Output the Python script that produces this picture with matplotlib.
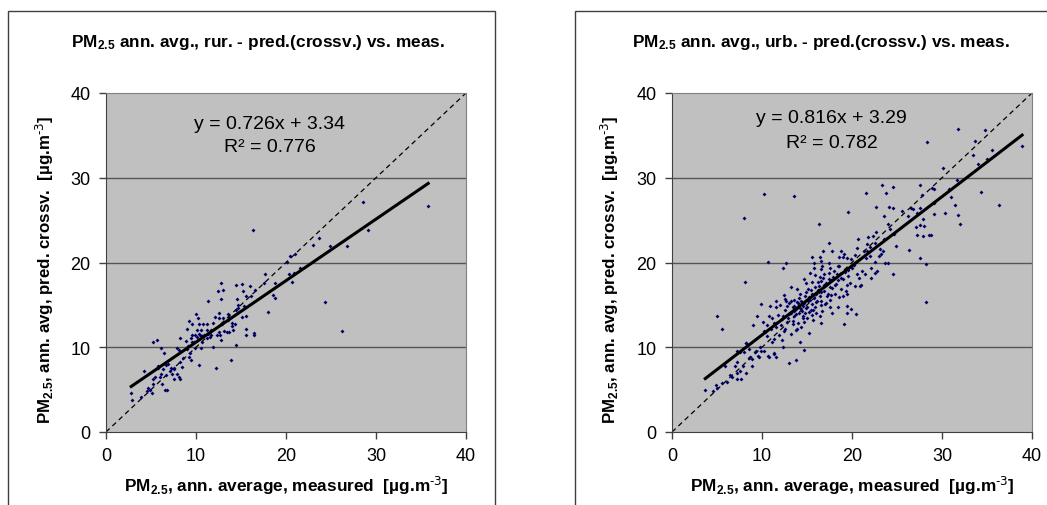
import matplotlib
matplotlib.use('Agg')
import matplotlib.pyplot as plt
import numpy as np
from matplotlib.patches import Rectangle

plt.rcParams['font.family'] = ['Liberation Sans', 'DejaVu Sans']
plt.rcParams['mathtext.default'] = 'regular'

# rural stations: measured vs. cross-validated prediction
rur_meas = [20.4, 21.0, 20.1, 17.7, 18.8, 20.3, 20.9, 20.7, 21.6, 12.8, 14.4, 15.1, 16.0, 17.5,
            12.4, 13.0, 15.2, 16.5, 12.8, 11.3, 14.5, 15.6, 16.1, 18.6, 18.8, 14.7, 14.7, 15.3,
            10.0, 12.6, 12.1, 10.2, 12.6, 13.0, 13.5, 13.7, 14.4, 15.1, 15.6, 18.0, 9.2, 9.6,
            11.2, 11.9, 10.8, 10.3, 13.6, 14.0, 12.9, 14.0, 14.3, 9.0, 10.1, 10.6, 10.3, 10.9,
            10.4, 11.2, 11.7, 12.6, 13.1, 13.4, 13.7, 14.1, 15.6, 16.4, 16.4, 9.6, 9.9, 9.4,
            10.1, 10.7, 11.2, 11.5, 11.7, 12.3, 12.7, 12.8, 15.6, 8.2, 5.2, 5.7, 8.9, 9.5,
            9.8, 10.7, 11.9, 14.4, 6.1, 7.9, 8.1, 9.1, 9.0, 9.9, 10.6, 6.4, 9.3, 9.2,
            8.6, 9.4, 13.9, 10.3, 12.2, 5.8, 6.7, 6.3, 6.9, 7.2, 7.5, 5.8, 8.4, 8.2,
            4.2, 6.1, 7.1, 7.6, 5.4, 6.0, 6.7, 7.3, 7.9, 8.2, 8.1, 7.5, 5.2, 5.2,
            6.2, 4.7, 4.9, 5.1, 4.6, 6.5, 6.8, 3.9, 2.8, 2.9, 28.6, 35.8, 29.1, 23.7,
            23.0, 24.9, 26.8, 24.3, 26.2, 16.3]
rur_pred = [20.8, 21.0, 20.1, 18.6, 17.6, 18.6, 18.8, 17.7, 19.3, 17.6, 17.4, 17.5, 17.2, 17.6,
            16.6, 16.7, 16.6, 16.7, 15.7, 15.5, 15.7, 16.0, 16.0, 16.2, 15.8, 15.0, 14.6, 14.9,
            13.9, 14.1, 13.6, 13.5, 13.4, 13.4, 13.9, 13.6, 14.4, 13.6, 13.7, 14.2, 13.1, 12.7,
            12.8, 12.9, 12.7, 12.7, 13.2, 12.9, 12.7, 12.5, 12.8, 12.2, 12.0, 12.0, 11.6, 11.5,
            11.5, 12.0, 12.0, 11.8, 11.9, 11.8, 11.8, 12.0, 12.2, 11.7, 11.5, 11.5, 11.4, 11.1,
            11.2, 11.3, 11.1, 11.2, 11.5, 11.4, 11.4, 10.9, 11.4, 11.1, 10.6, 10.9, 10.7, 10.6,
            10.6, 10.6, 10.0, 10.3, 9.9, 9.9, 9.7, 10.2, 9.8, 9.9, 9.9, 9.3, 9.3, 8.8,
            8.7, 8.5, 8.5, 7.9, 7.5, 7.8, 7.9, 7.4, 8.0, 7.6, 7.6, 7.6, 7.7, 8.3,
            7.2, 6.9, 7.2, 7.4, 6.5, 6.5, 6.7, 6.8, 6.8, 6.3, 6.5, 6.2, 6.2, 5.7,
            5.7, 5.2, 4.9, 4.6, 4.8, 4.9, 5.0, 4.1, 4.6, 3.8, 27.1, 26.7, 23.8, 22.9,
            22.1, 21.9, 21.9, 15.3, 11.9, 23.8]

# urban stations
urb_meas = [31.8, 34.8, 28.3, 33.7, 35.6, 38.9, 33.4, 35.0, 34.0, 30.1, 31.7, 21.6, 23.3, 24.6,
            23.8, 27.5, 28.9, 29.1, 27.8, 30.8, 31.0, 34.3, 22.7, 24.1, 24.6, 25.5, 26.5, 26.8,
            27.5, 29.1, 31.4, 36.3, 23.5, 26.2, 27.2, 27.9, 29.1, 30.3, 31.8, 32.0, 22.7, 24.0,
            24.2, 24.7, 27.1, 27.5, 28.0, 27.2, 27.9, 28.5, 28.8, 21.8, 22.3, 21.7, 22.0, 21.3,
            21.7, 23.4, 24.9, 26.3, 23.0, 23.2, 22.6, 27.5, 23.7, 24.0, 28.2, 21.1, 21.4, 22.1,
            22.5, 22.8, 22.1, 24.6, 21.0, 28.2,
            10.2, 13.5, 8.0, 19.5, 16.3, 20.7, 17.4, 18.8, 20.6, 16.8, 17.8, 15.5, 16.4, 16.6,
            18.6, 19.0, 19.4, 19.9, 20.3, 19.1, 10.7, 12.7, 12.3, 15.8, 17.4, 15.8, 16.5, 16.7,
            17.5, 18.4, 20.2, 19.6, 20.6, 8.1, 15.3, 15.9, 16.4, 16.9, 17.4, 17.9, 18.4, 19.0,
            19.4, 20.3, 14.7, 14.9, 15.6, 16.2, 16.9, 17.5, 18.1, 18.8, 19.3, 20.9, 13.2, 12.4,
            13.9, 14.2, 14.9, 15.4, 16.0, 16.5, 17.2, 17.7, 18.6, 19.4, 12.5, 13.2, 13.6, 13.9,
            14.3, 14.7, 15.1, 15.5, 16.0, 16.5, 17.1, 17.5, 18.4, 19.4, 19.9, 11.6, 11.5, 12.0,
            12.8, 13.4, 13.8, 14.0, 14.4, 14.9, 15.2, 15.7, 16.7, 17.8, 9.9, 10.9, 20.4, 19.4,
            9.4, 10.8, 12.3, 13.0, 13.6, 14.1, 14.5, 15.0, 15.5, 16.4, 9.0, 10.1, 11.3, 12.2,
            12.8, 13.4, 14.0, 14.7, 16.6, 19.1, 11.0, 11.6, 12.5, 13.2, 13.8, 15.2, 11.9, 10.3,
            10.6, 11.3, 12.2, 11.1, 14.2, 8.2, 9.8, 10.2, 9.2, 14.7, 8.7, 11.3, 12.3,
            5.0, 5.5, 3.7, 4.5, 4.9, 5.0, 5.5, 6.1, 7.0, 5.9, 7.2, 6.7, 6.4, 7.2,
            7.7, 7.6, 8.2, 7.9, 8.9, 8.9, 8.5, 9.7, 10.7, 10.8, 11.3, 11.6, 13.0, 13.8,
            7.2, 7.6, 8.0, 8.2, 8.5, 9.3, 9.5, 9.9, 7.2,
            13.2, 13.6, 14.1, 14.4, 14.8, 15.1, 15.3, 15.6, 15.9, 16.2, 16.5, 16.8, 17.1, 17.4,
            17.7, 18.0, 18.3, 18.6, 12.6, 12.9, 13.4, 13.8, 14.2, 14.6, 15.0, 15.4, 15.8, 16.1,
            16.4, 16.9, 17.3, 17.8, 18.2, 18.8, 19.2, 19.6, 20.0, 20.4, 11.8, 12.1, 12.4, 11.5,
            11.1, 10.6, 10.2, 13.9, 14.3, 15.7, 16.0, 17.0, 17.6, 18.1, 19.0, 19.8, 20.8, 21.5,
            22.0, 22.6, 23.1, 23.6, 14.0, 14.5, 15.2, 15.9, 16.6, 13.5, 14.8, 13.0, 12.7, 16.3]
urb_pred = [35.8, 35.6, 34.2, 34.3, 33.3, 33.8, 32.7, 32.2, 31.6, 31.2, 29.7, 28.2, 29.2, 28.9,
            28.2, 29.2, 28.8, 28.7, 28.0, 28.7, 27.7, 28.3, 26.5, 26.5, 26.4, 26.1, 26.4, 26.3,
            26.4, 27.0, 26.8, 26.8, 25.5, 25.5, 25.8, 25.1, 25.7, 25.8, 25.6, 24.5, 23.6, 24.5,
            24.0, 23.4, 24.2, 24.4, 24.3, 23.3, 23.1, 23.3, 23.3, 23.0, 23.1, 22.2, 21.8, 21.4,
            21.4, 21.4, 22.0, 21.5, 20.8, 21.0, 20.1, 20.5, 19.9, 19.9, 19.8, 19.0, 18.6, 19.4,
            18.8, 19.0, 18.2, 18.7, 17.3, 15.3,
            28.1, 27.9, 25.3, 25.9, 24.5, 22.8, 22.3, 21.4, 21.7, 21.3, 21.3, 20.6, 20.7, 20.2,
            20.7, 20.7, 20.5, 20.4, 20.9, 21.0, 20.1, 19.9, 19.3, 20.0, 20.0, 19.3, 19.2, 19.6,
            19.4, 19.6, 19.7, 19.1, 18.6, 17.7, 18.8, 18.5, 18.3, 18.6, 18.1, 18.3, 17.9, 18.1,
            17.4, 17.2, 18.1, 17.6, 17.7, 17.7, 17.3, 17.1, 17.3, 16.9, 16.6, 17.2, 17.1, 16.2,
            16.9, 16.3, 16.5, 16.7, 16.3, 16.5, 16.1, 16.2, 15.9, 16.3, 15.7, 15.4, 15.6, 15.3,
            15.5, 15.2, 15.4, 15.1, 15.3, 15.0, 15.2, 14.8, 14.8, 14.9, 14.5, 15.4, 14.7, 15.0,
            14.9, 14.7, 14.5, 14.8, 14.3, 14.6, 14.2, 14.4, 14.3, 14.0, 15.1, 14.9, 13.9, 14.0,
            13.7, 13.7, 13.7, 13.9, 13.7, 14.0, 13.7, 13.5, 13.8, 13.7, 12.6, 13.0, 12.9, 13.3,
            13.0, 12.7, 12.9, 13.0, 12.9, 12.8, 12.2, 12.4, 12.1, 11.6, 12.0, 11.7, 11.5, 11.8,
            11.3, 11.0, 10.9, 10.6, 10.6, 10.5, 10.0, 9.6, 9.4, 9.7, 8.8, 9.2, 10.0,
            13.7, 12.2, 5.0, 4.8, 5.5, 5.2, 5.8, 5.9, 7.8, 7.8, 7.0, 6.5, 6.7, 6.2,
            6.3, 7.2, 7.0, 7.8, 7.8, 8.6, 8.7, 8.8, 9.0, 8.9, 9.3, 8.9, 8.2, 8.5,
            8.3, 9.4, 9.4, 10.5, 9.8, 9.6, 9.0, 9.6, 9.6,
            14.1, 14.9, 15.8, 15.1, 16.1, 16.9, 15.6, 16.3, 17.1, 16.7, 17.8, 18.2, 17.6, 18.8,
            17.9, 19.0, 18.6, 19.6, 14.4, 13.5, 13.1, 13.9, 14.6, 13.4, 14.8, 14.4, 15.8, 15.4,
            16.0, 16.6, 16.3, 17.0, 17.5, 18.2, 18.9, 18.4, 19.3, 20.1, 13.8, 12.6, 11.9, 12.9,
            13.4, 12.6, 11.9, 12.2, 12.4, 13.2, 14.0, 15.1, 15.6, 16.3, 16.0, 17.6, 18.2, 20.5,
            20.8, 22.3, 21.6, 22.8, 15.2, 14.9, 15.9, 14.7, 15.5, 14.3, 14.0, 15.2, 15.5, 17.2]

# trend lines as printed on the charts
rur_fit = (0.726, 3.34, 0.776)
urb_fit = (0.816, 3.29, 0.782)

titles = ['PM$_{2.5}$ ann. avg., rur. - pred.(crossv.) vs. meas.',
          'PM$_{2.5}$ ann. avg., urb. - pred.(crossv.) vs. meas.']
xlab = r'PM$_{2.5}$, ann. average, measured  [µg.m$^{\text{-3}}$]'
ylab = r'PM$_{2.5}$, ann. avg, pred. crossv.  [µg.m$^{\text{-3}}$]'

fig = plt.figure(figsize=(10.47, 5.06), dpi=100)

# chart frames (Excel chart area borders)
fig.patches.append(Rectangle((8 / 1047, -0.1), 487 / 1047, 1.1 - 12 / 506, transform=fig.transFigure,
                             fill=False, edgecolor='#404040', linewidth=1))
fig.patches.append(Rectangle((575 / 1047, -0.1), 0.5, 1.1 - 12 / 506, transform=fig.transFigure,
                             fill=False, edgecolor='#404040', linewidth=1))

panels = [
    (rur_meas, rur_pred, rur_fit, 106, 258, 45, (0.454, 0.909, 0.841)),
    (urb_meas, urb_pred, urb_fit, 672, 821, 610, (0.444, 0.929, 0.855)),
]

for i, (xs, ys, fit, left_px, title_px, ylab_px, eqpos) in enumerate(panels):
    ax = fig.add_axes([left_px / 1047, 1 - 433 / 506, 360 / 1047, 339 / 506])
    ax.set_facecolor('#c0c0c0')
    ax.set_xlim(0, 40)
    ax.set_ylim(0, 40)
    ax.set_xticks([0, 10, 20, 30, 40])
    ax.set_yticks([0, 10, 20, 30, 40])
    for g in [10, 20, 30]:
        ax.axhline(g, color='#555555', linewidth=1, zorder=1)

    ax.plot([0, 40], [0, 40], color='black', linestyle=(0, (4, 3)), linewidth=0.9, zorder=2)
    ax.plot(xs, ys, linestyle='none', marker='D', markersize=2.0, markeredgewidth=0,
            color='#000066', zorder=3)

    slope, icept, r2 = fit
    xl = np.array([min(xs), max(xs)])
    ax.plot(xl, slope * xl + icept, color='black', linewidth=2.2, zorder=4)

    ax.text(eqpos[0], eqpos[1], 'y = %.3fx + %.2f' % (slope, icept), transform=ax.transAxes,
            ha='center', va='center', fontsize=14)
    ax.text(eqpos[0], eqpos[2], 'R² = %.3f' % r2, transform=ax.transAxes,
            ha='center', va='center', fontsize=14)

    for s in ['top', 'right']:
        ax.spines[s].set_color('#808080')
    for s in ['left', 'bottom']:
        ax.spines[s].set_color('#404040')
    ax.tick_params(direction='out', length=5, width=1, color='#404040', labelsize=13, pad=6)

    fig.text(title_px / 1047, 1 - 43 / 506, titles[i], ha='center', va='center',
             fontsize=12.4, fontweight='bold')
    ax.set_xlabel(xlab, fontsize=12.4, fontweight='bold', labelpad=7)
    fig.text(ylab_px / 1047, 1 - 270 / 506, ylab, rotation=90, ha='center', va='center',
             fontsize=12.2, fontweight='bold')

fig.savefig('out.png', dpi=100)
